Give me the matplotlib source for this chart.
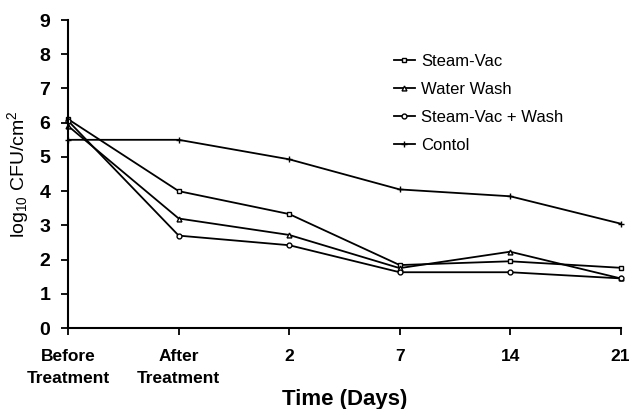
import matplotlib.pyplot as plt

plt.rcParams['font.family'] = ['Liberation Sans', 'DejaVu Sans']
plt.rcParams['mathtext.fontset'] = 'custom'
plt.rcParams['mathtext.rm'] = 'Liberation Sans'
plt.rcParams['mathtext.it'] = 'Liberation Sans'

# data
time_labels = ['Before\nTreatment', 'After\nTreatment', '2', '7', '14', '21']
steam_vac = [6.1, 4.0, 3.33, 1.84, 1.95, 1.76]
water_wash = [5.9, 3.2, 2.72, 1.75, 2.23, 1.45]
steam_vac_wash = [6.05, 2.7, 2.42, 1.63, 1.63, 1.45]
control = [5.5, 5.5, 4.93, 4.05, 3.85, 3.05]

x = range(len(time_labels))

fig = plt.figure(figsize=(6.32, 4.09), dpi=100)
ax = fig.add_axes([0.108, 0.198, 0.874, 0.753])

ax.plot(x, steam_vac, color='black', lw=1.3, marker='s', ms=3.5, mfc='white', mew=1, label='Steam-Vac')
ax.plot(x, water_wash, color='black', lw=1.3, marker='^', ms=3.5, mfc='white', mew=1, label='Water Wash')
ax.plot(x, steam_vac_wash, color='black', lw=1.3, marker='o', ms=3.5, mfc='white', mew=1, label='Steam-Vac + Wash')
ax.plot(x, control, color='black', lw=1.3, marker='+', ms=5, mew=1, label='Contol')

ax.set_xlim(0, 5)
ax.set_ylim(0, 9)
ax.set_yticks(range(10))
ax.set_xticks(list(x))
ax.set_xticklabels(time_labels, fontsize=12.5, fontweight='bold', linespacing=1.6)
for lab in ax.get_yticklabels():
	lab.set_fontsize(14)
	lab.set_fontweight('bold')

ax.spines['top'].set_visible(False)
ax.spines['right'].set_visible(False)
ax.spines['left'].set_linewidth(1.5)
ax.spines['bottom'].set_linewidth(1.5)
ax.tick_params(axis='both', direction='out', length=5, width=1.3)
ax.tick_params(axis='x', pad=10)
ax.tick_params(axis='y', pad=8)
for ln in ax.get_lines():
	ln.set_clip_on(False)

ax.set_xlabel('Time (Days)', fontsize=16, fontweight='bold', labelpad=2)
ax.set_ylabel(r'log$_{10}$ CFU/cm$^2$', fontsize=14)
ax.yaxis.set_label_coords(-0.068, 0.5)

ax.legend(loc='upper left', bbox_to_anchor=(0.574, 0.918), frameon=False, fontsize=12,
	handlelength=1.3, handletextpad=0.35, labelspacing=0.78, borderpad=0)

fig.savefig('out.png', dpi=100)
